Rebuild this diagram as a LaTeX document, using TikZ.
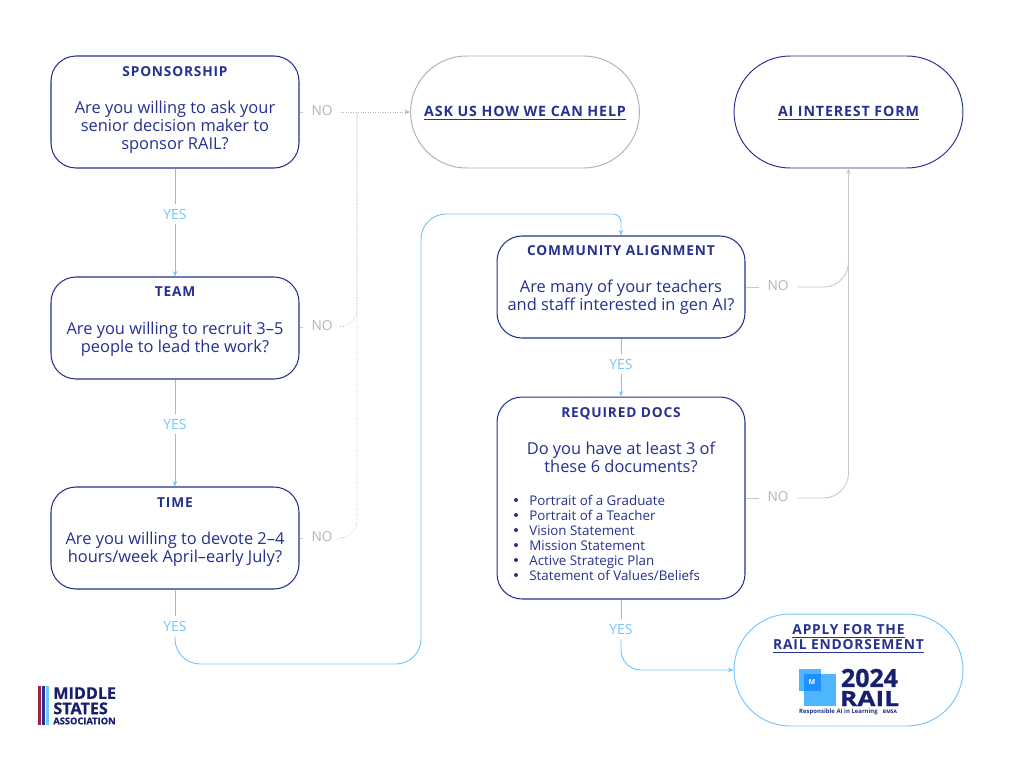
\documentclass[tikz,border=0pt]{standalone}
\usepackage{fontspec}
\setmainfont{Open Sans}
\newfontfamily\trackfont[LetterSpace=6]{Open Sans}
\newfontfamily\heavyfont[BoldFeatures={FakeBold=0.8}]{Open Sans}
\usetikzlibrary{arrows.meta,positioning}
\definecolor{navy}{HTML}{25308F}
\definecolor{inkblue}{HTML}{17206F}
\definecolor{skyline}{HTML}{74C6FF}
\definecolor{noline}{HTML}{C8C8C8}
\definecolor{maroon}{HTML}{A31F46}
\definecolor{railsky}{HTML}{4DB6FF}
\definecolor{railblue}{HTML}{1E90FF}
\tikzset{
  question/.style={
    shape = rectangle,
    draw = navy,
    rounded corners = 0.5cm,
    minimum width = 4.96cm,
    line width = 0.6pt,
    inner sep = 0pt
  },
  pill/.style={
    shape = rectangle,
    rounded corners = 1.12cm,
    minimum width = 4.58cm,
    minimum height = 2.24cm,
    line width = 0.55pt,
    inner sep = 0pt
  },
  heading/.style={
    font = \trackfont\bfseries\fontsize{7.8}{9}\selectfont,
    text = navy,
    inner sep = 0pt
  },
  ask/.style={
    font = \fontsize{9.35}{10.25}\selectfont,
    text = navy,
    align = center,
    inner sep = 0pt
  },
  doc/.style={
    font = \fontsize{7.6}{8.5}\selectfont,
    text = navy,
    text height = 0.2cm,
    text depth = 0.05cm,
    anchor = west,
    inner sep = 0pt
  },
  dot/.style={
    shape = circle,
    fill = navy,
    inner sep = 0pt,
    minimum size = 0.08cm
  },
  linktext/.style={
    font = \trackfont\bfseries\fontsize{8.1}{8.6}\selectfont,
    text = navy,
    align = center,
    inner sep = 0pt
  },
  yes/.style={
    font = \fontsize{8}{9}\selectfont,
    text = skyline,
    text height = 0.2cm,
    text depth = 0cm,
    inner xsep = 0pt,
    inner ysep = 0.1cm
  },
  no/.style={
    font = \fontsize{7.8}{9}\selectfont,
    text = noline!90!black,
    text height = 0.2cm,
    text depth = 0.08cm,
    inner xsep = 0.16cm,
    inner ysep = 0pt
  },
  yesline/.style={
    draw = skyline,
    line width = 0.55pt
  },
  noline/.style={
    draw = noline,
    line width = 0.5pt
  },
  hint/.style={
    draw = noline!90!black,
    line width = 0.4pt,
    densely dotted
  },
  tip/.style={
    -{Stealth[length=0.11cm,width=0.09cm]}
  }
}
\begin{document}
\begin{tikzpicture}[x=0.02cm,y=-0.02cm]
  \useasboundingbox (0,0) rectangle (1024,768);

  % questions
  \node[question, minimum height=2.24cm] (sponsor) at (175,112) {};
  \node[question, minimum height=2.04cm] (team) at (175,328) {};
  \node[question, minimum height=2.04cm] (timebox) at (175,538) {};
  \node[question, minimum height=2.04cm] (community) at (621,287) {};
  \node[question, minimum height=4.04cm] (docs) at (621,498) {};

  \node[pill, draw=gray!60] (help) at (525,112) {};
  \node[pill, draw=navy] (interest) at (848.5,112) {};
  \node[pill, draw=skyline] (apply) at (848.5,670) {};

  \node[heading] (sponsorT) at (175,72) {SPONSORSHIP};
  \node[ask] (sponsorQ) at (175,127) {Are you willing to ask your\\senior decision maker to\\sponsor RAIL?};
  \node[heading] (teamT) at (175,292) {TEAM};
  \node[ask] (teamQ) at (175,339) {Are you willing to recruit 3--5\\people to lead the work?};
  \node[heading] (timeT) at (175,503) {TIME};
  \node[ask] (timeQ) at (175,549) {Are you willing to devote 2--4\\hours/week April--early July?};
  \node[heading] (communityT) at (621,251) {COMMUNITY ALIGNMENT};
  \node[ask] (communityQ) at (621,297) {Are many of your teachers\\and staff interested in gen AI?};
  \node[heading] (docsT) at (621,413.5) {REQUIRED DOCS};
  \node[ask] (docsQ) at (621,457.5) {Do you have at least 3 of\\these 6 documents?};

  \foreach \i/\y/\t in {1/500/{Portrait of a Graduate},2/515/{Portrait of a Teacher},3/530/{Vision Statement},4/545/{Mission Statement},5/560/{Active Strategic Plan},6/575/{Statement of Values/Beliefs}}{
    \node[dot] (dot\i) at (516,\y) {};
    \node[doc] (doc\i) at (529,\y+2) {\t};
  }

  \node[linktext] (helpL) at (525,113) {\underline{ASK US HOW WE CAN HELP}};
  \node[linktext] (interestL) at (848.5,113) {\underline{AI INTEREST FORM}};
  \node[linktext, font=\trackfont\bfseries\fontsize{7.85}{8.6}\selectfont] (applyL) at (848.5,639) {\underline{APPLY FOR THE}\\\underline{RAIL ENDORSEMENT}};

  % labels on the connectors
  \node[yes] (yesA) at (175,214) {YES};
  \node[yes] (yesB) at (175,424) {YES};
  \node[yes] (yesC) at (175,626) {YES};
  \node[yes] (yesD) at (621,364) {YES};
  \node[yes] (yesE) at (621,629) {YES};
  \node[no] (noA) at (322,112) {NO};
  \node[no] (noB) at (322,327) {NO};
  \node[no] (noC) at (322,538) {NO};
  \node[no] (noD) at (778,287) {NO};
  \node[no] (noE) at (778,498) {NO};

  \coordinate (join) at (357,112);
  \coordinate (wireA) at (421,664);
  \coordinate (wireB) at (421,214);

  % yes
  \draw[yesline] (sponsor) -- (yesA);
  \draw[yesline, tip] (yesA) -- (team);
  \draw[yesline] (team) -- (yesB);
  \draw[yesline, tip] (yesB) -- (timebox);
  \draw[yesline] (timebox) -- (yesC);
  \draw[yesline, tip, rounded corners=0.5cm] (yesC) |- (wireA) -- (wireB) [rounded corners=0.16cm] -| (community);
  \draw[yesline] (community) -- (yesD);
  \draw[yesline, tip] (yesD) -- (docs);
  \draw[yesline] (docs) -- (yesE);
  \draw[yesline, tip, rounded corners=0.4cm] (yesE) |- (apply);

  % no
  \draw[noline] (sponsor.east) -- (noA);
  \draw[hint, tip] (noA) -- (help);
  \draw[noline] (team.east |- noB) -- (noB);
  \draw[hint, rounded corners=0.35cm] (noB) -| (join);
  \draw[noline] (timebox.east |- noC) -- (noC);
  \draw[hint, rounded corners=0.35cm] (noC) -| (join);
  \draw[noline] (community.east) -- (noD);
  \draw[noline, tip, rounded corners=0.5cm] (noD) -| (interest);
  \draw[noline] (docs.east) -- (noE);
  \draw[noline, rounded corners=0.5cm] (noE) -| (interest);

  % rail badge
  \fill[railsky] (804,674) rectangle (836,706);
  \fill[railsky] (799,669) rectangle (821,691);
  \fill[railblue] (804,674) rectangle (821,691);
  \node[font=\bfseries\fontsize{4}{4}\selectfont, text=white, inner sep=0pt] (railM) at (812,682) {M};
  \node[font=\heavyfont\bfseries\fontsize{14.2}{14}\selectfont, text=inkblue, inner sep=0pt] (railY) at (869.5,678) {2024};
  \node[font=\heavyfont\bfseries\fontsize{12}{12}\selectfont, text=inkblue, inner sep=0pt] (railN) at (869.5,698.5) {\scalebox{1.25}[1]{RAIL}};
  \node[font=\bfseries\fontsize{3.4}{4}\selectfont, text=navy, inner sep=0pt] (railR) at (838.5,711.5) {Responsible AI in Learning};
  \node[font=\bfseries\fontsize{2.8}{4}\selectfont, text=inkblue, inner sep=0pt] (railB) at (890,711.5) {BMSA};

  % middle states logo
  \fill[maroon] (38,686) rectangle (41,725);
  \fill[navy] (42,686) rectangle (45,725);
  \fill[skyline] (46,686) rectangle (49,725);
  \node[font=\heavyfont\bfseries\fontsize{9.2}{8.7}\selectfont, text=inkblue, inner sep=0pt, anchor=north west, align=left] (msaA) at (53,687) {MIDDLE\\STATES};
  \node[font=\heavyfont\bfseries\fontsize{5.3}{6}\selectfont, text=inkblue, inner sep=0pt, anchor=west] (msaB) at (53,721) {ASSOCIATION};
\end{tikzpicture}
\end{document}
